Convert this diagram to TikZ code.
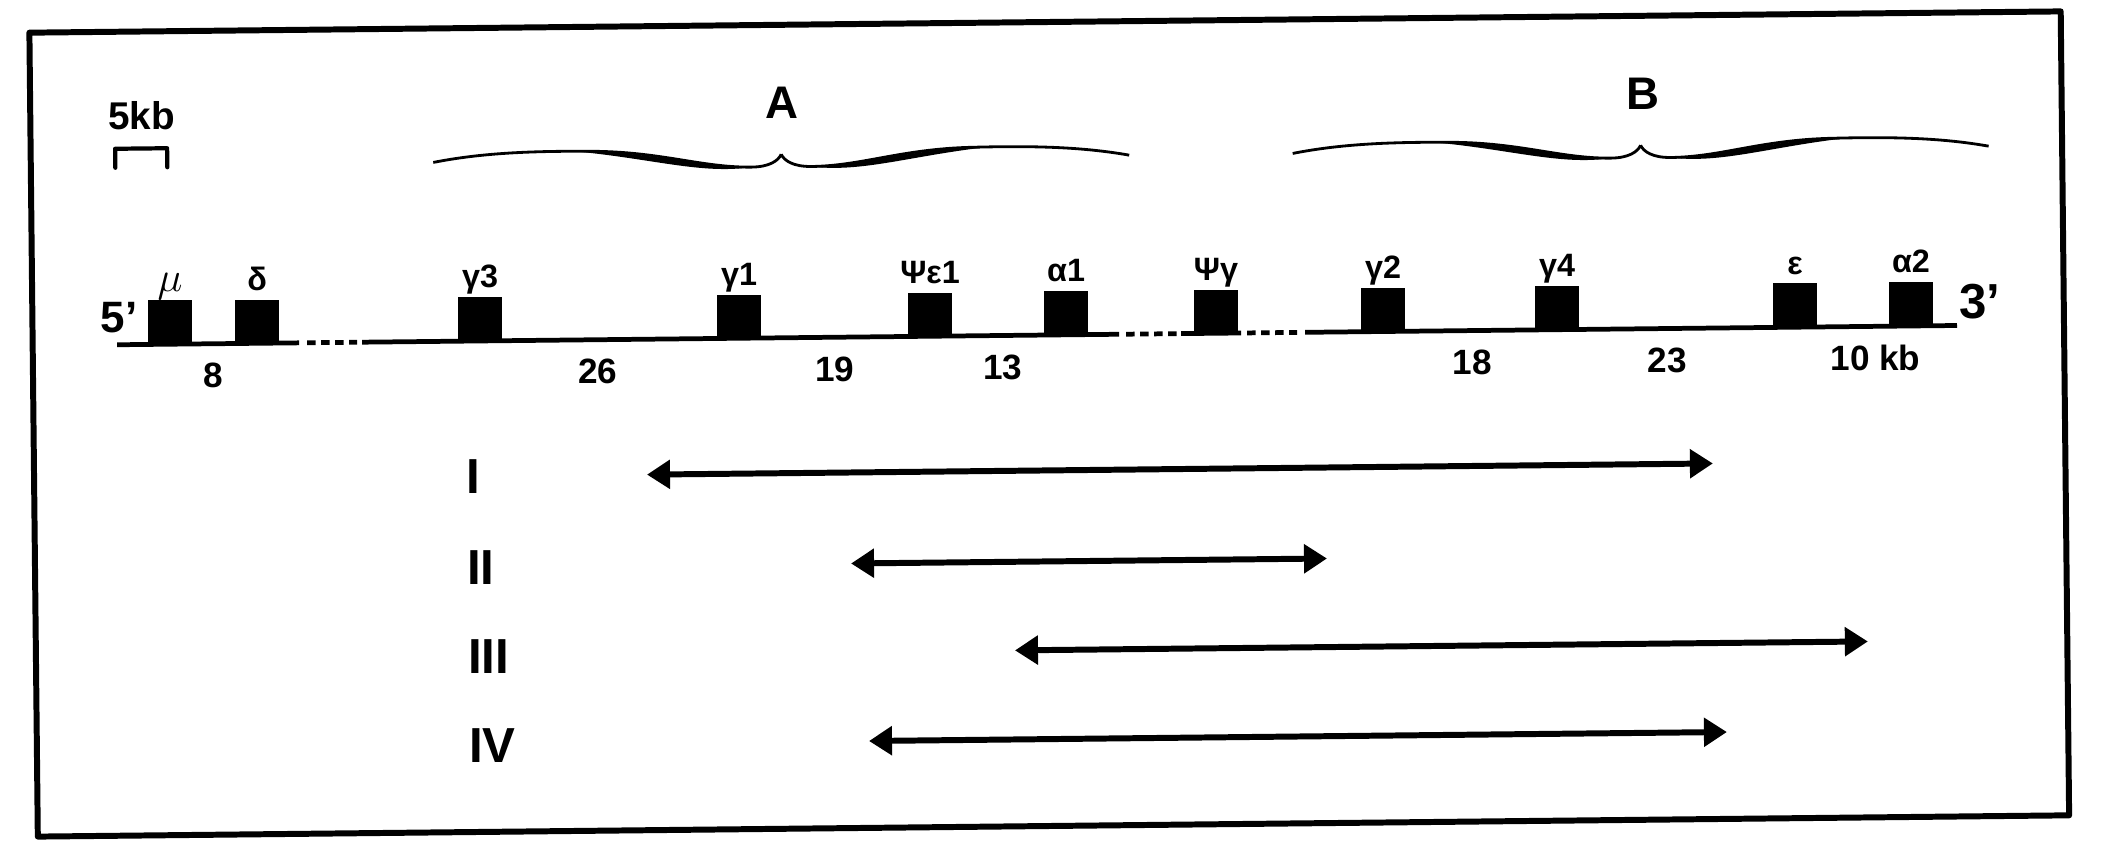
\documentclass[tikz,border=0pt]{standalone}
\usepackage{fontspec}
\setmainfont{Liberation Sans}
\usepackage{tikz}
\usetikzlibrary{arrows.meta,positioning}
\definecolor{ink}{HTML}{000000}
\tikzset{
  frameBox/.style={draw=ink, line width=1.7pt, line join=round},
  dnaLine/.style={draw=ink, line width=1.35pt},
  dnaGap/.style={dnaLine, dash pattern=on 0.085cm off 0.055cm},
  geneBox/.style={fill=ink, inner sep=0pt, minimum width=0.44cm, minimum height=0.44cm, anchor=south},
  geneLabel/.style={text=ink, font=\fontsize{9.2}{10}\selectfont\bfseries, inner sep=0pt, text depth=0pt},
  gapText/.style={text=ink, font=\fontsize{10}{11}\selectfont\bfseries, inner sep=0pt, anchor=base},
  endText/.style={text=ink, font=\fontsize{12.5}{14}\selectfont\bfseries, inner sep=0pt},
  scaleBar/.style={draw=ink, line width=1.2pt, line cap=round, line join=round},
  scaleText/.style={text=ink, font=\fontsize{11}{12}\selectfont\bfseries, inner sep=0pt, anchor=base},
  braceLine/.style={draw=ink, line width=0.8pt},
  braceInk/.style={fill=ink},
  braceLabel/.style={text=ink, font=\fontsize{13}{15}\selectfont\bfseries, inner sep=0pt, anchor=base},
  spanArrow/.style={draw=ink, line width=1.7pt, {Triangle[length=0.23cm, width=0.28cm]}-{Triangle[length=0.23cm, width=0.28cm]}},
  spanLabel/.style={text=ink, font=\fontsize{14}{15}\selectfont\bfseries, inner sep=0pt, text depth=0pt, anchor=west}
}

\begin{document}
\begin{tikzpicture}
  \useasboundingbox (0,0) rectangle (21.11,8.48);
  \begin{scope}[rotate around={0.6:(10.49,4.24)}]
  \draw[frameBox] (0.335,0.22) rectangle (20.65,8.26);

  % scale bar
  \node[scaleText] (scale) at (1.445,7.275) {5kb};
  \draw[scaleBar] (1.18,6.90) -- (1.18,7.09) -- (1.70,7.09) -- (1.70,6.90);

  % clusters A and B
  \def\braceHalf{(-3.48,0) .. controls (-3.0,0.09) and (-2.5,0.105) .. (-1.9,0.095)
    .. controls (-1.2,0.085) and (-0.8,-0.08) .. (-0.3,-0.08)
    .. controls (-0.12,-0.08) and (-0.03,-0.02) .. (0,0.045)}
  \def\braceWedge{(-2.1,0.1) .. controls (-1.3,0.09) and (-0.8,-0.08) .. (-0.3,-0.08)
    .. controls (-0.8,-0.15) and (-1.3,0.02) .. (-2.1,0.1) -- cycle}
  \begin{scope}[shift={(7.84,6.92)}]
    \draw[braceLine] \braceHalf;
    \fill[braceInk] \braceWedge;
    \begin{scope}[xscale=-1]
      \draw[braceLine] \braceHalf;
      \fill[braceInk] \braceWedge;
    \end{scope}
  \end{scope}
  \begin{scope}[shift={(16.435,6.92)}]
    \draw[braceLine] \braceHalf;
    \fill[braceInk] \braceWedge;
    \begin{scope}[xscale=-1]
      \draw[braceLine] \braceHalf;
      \fill[braceInk] \braceWedge;
    \end{scope}
  \end{scope}
  \node[braceLabel] (braceA) at (7.85,7.32) {A};
  \node[braceLabel] (braceB) at (16.46,7.32) {B};

  % chromosome
  \node[endText, anchor=base east] (five) at (1.39,5.25) {5’};
  \draw[dnaLine] (1.18,5.13) -- (3.00,5.13);
  \draw[dnaGap] (3.08,5.13) -- (3.58,5.13);
  \draw[dnaLine] (3.63,5.13) -- (11.20,5.13);
  \draw[dnaGap] (11.27,5.13) -- (11.78,5.13);
  \draw[dnaLine] (11.82,5.13) -- (12.42,5.13);
  \draw[dnaGap] (12.48,5.13) -- (12.98,5.13);
  \draw[dnaLine] (13.06,5.13) -- (19.58,5.13);
  \node[endText, font=\fontsize{14}{15}\selectfont\bfseries, anchor=base west] (three) at (19.60,5.20) {3’};

  \node[geneBox] (mu) at (1.71,5.12) {};
  \node[geneBox] (delta) at (2.58,5.12) {};
  \node[geneBox] (gThree) at (4.81,5.12) {};
  \node[geneBox] (gOne) at (7.40,5.12) {};
  \node[geneBox] (psiEps) at (9.31,5.12) {};
  \node[geneBox] (aOne) at (10.67,5.12) {};
  \node[geneBox] (psiG) at (12.17,5.12) {};
  \node[geneBox] (gTwo) at (13.84,5.12) {};
  \node[geneBox] (gFour) at (15.58,5.12) {};
  \node[geneBox] (eps) at (17.96,5.12) {};
  \node[geneBox] (aTwo) at (19.12,5.12) {};

  \node[geneLabel, above=0.08 of mu, font=\fontsize{11.5}{12}\selectfont] (muLab) {$\mu$};
  \node[geneLabel, above=0.08 of delta] (deltaLab) {δ};
  \node[geneLabel, above=0.08 of gThree] (gThreeLab) {γ3};
  \node[geneLabel, above=0.08 of gOne] (gOneLab) {γ1};
  \node[geneLabel, above=0.08 of psiEps] (psiEpsLab) {Ψε1};
  \node[geneLabel, above=0.08 of aOne] (aOneLab) {α1};
  \node[geneLabel, above=0.08 of psiG] (psiGLab) {Ψγ};
  \node[geneLabel, above=0.08 of gTwo] (gTwoLab) {γ2};
  \node[geneLabel, above=0.08 of gFour] (gFourLab) {γ4};
  \node[geneLabel, above=0.08 of eps] (epsLab) {ε};
  \node[geneLabel, above=0.08 of aTwo] (aTwoLab) {α2};

  % distances
  \node[gapText] (d8) at (2.135,4.69) {8};
  \node[gapText] (d26) at (5.98,4.69) {26};
  \node[gapText] (d19) at (8.35,4.69) {19};
  \node[gapText] (d13) at (10.03,4.69) {13};
  \node[gapText] (d18) at (14.73,4.69) {18};
  \node[gapText] (d23) at (16.68,4.69) {23};
  \node[gapText] (d10) at (18.76,4.69) {10 kb};

  % clones
  \node[spanLabel] (cloneI) at (4.65,3.776) {I};
  \node[spanLabel] (cloneII) at (4.65,2.866) {II};
  \node[spanLabel] (cloneIII) at (4.65,1.98) {III};
  \node[spanLabel] (cloneIV) at (4.65,1.089) {IV};
  \coordinate (cloneIa) at (6.465,3.776);
  \coordinate (cloneIb) at (17.125,3.776);
  \coordinate (cloneIIa) at (8.496,2.866);
  \coordinate (cloneIIb) at (13.256,2.866);
  \coordinate (cloneIIIa) at (10.126,1.98);
  \coordinate (cloneIIIb) at (18.656,1.98);
  \coordinate (cloneIVa) at (8.657,1.089);
  \coordinate (cloneIVb) at (17.237,1.089);
  \draw[spanArrow] (cloneIa) -- (cloneIb);
  \draw[spanArrow] (cloneIIa) -- (cloneIIb);
  \draw[spanArrow] (cloneIIIa) -- (cloneIIIb);
  \draw[spanArrow] (cloneIVa) -- (cloneIVb);
  \end{scope}
\end{tikzpicture}
\end{document}
